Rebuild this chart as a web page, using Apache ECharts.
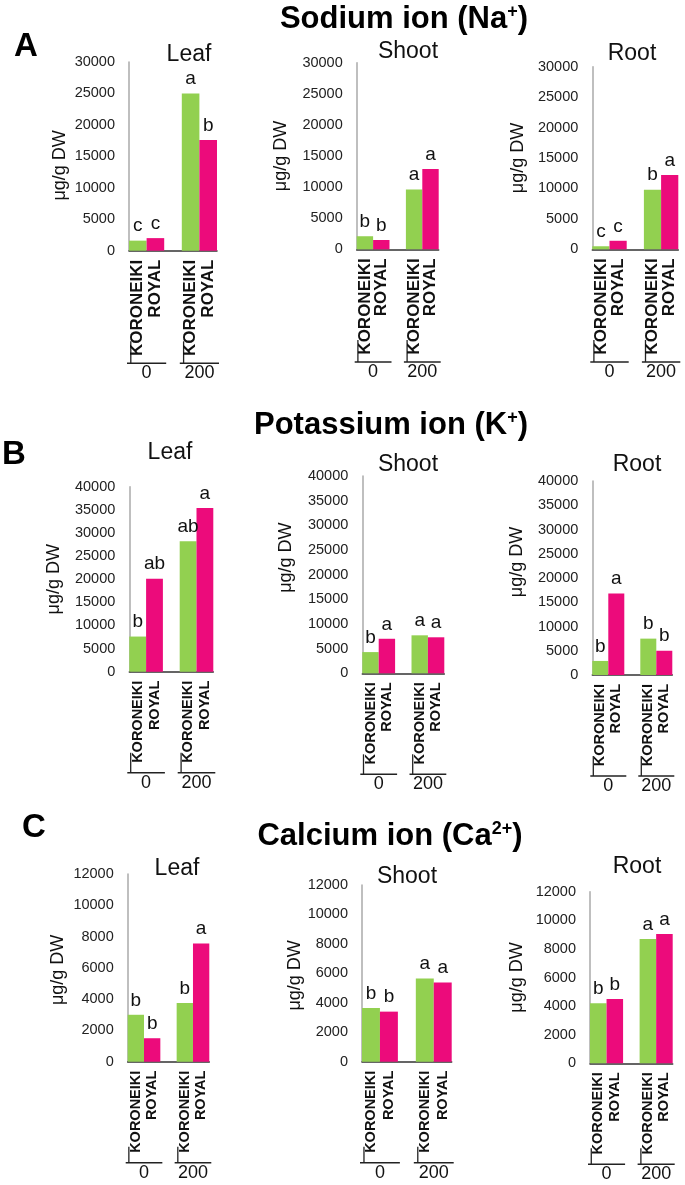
<!DOCTYPE html>
<html><head><meta charset="utf-8">
<script src="https://cdn.jsdelivr.net/npm/echarts@6/dist/echarts.min.js"></script>
<style>html,body{margin:0;padding:0;background:#fff}#c{width:685px;height:1185px}</style>
</head><body><div id="c"></div>
<script>
// ---------- data ----------
const categories = ['KORONEIKI', 'ROYAL', '', 'KORONEIKI', 'ROYAL'];
const salinityGroups = ['0', '200'];
const tissues = ['Leaf', 'Shoot', 'Root'];
const panelLetters = ['A', 'B', 'C'];
// values order: KORONEIKI-0, ROYAL-0, KORONEIKI-200, ROYAL-200
const sodiumLeaf = [1600, 2000, 25000, 17600];
const sodiumLeafSig = ['c', 'c', 'a', 'b'];
const sodiumShoot = [2100, 1500, 9600, 12900];
const sodiumShootSig = ['b', 'b', 'a', 'a'];
const sodiumRoot = [500, 1400, 9800, 12200];
const sodiumRootSig = ['c', 'c', 'b', 'a'];
const potassiumLeaf = [7600, 20100, 28200, 35400];
const potassiumLeafSig = ['b', 'ab', 'ab', 'a'];
const potassiumShoot = [4300, 7000, 7700, 7300];
const potassiumShootSig = ['b', 'a', 'a', 'a'];
const potassiumRoot = [2900, 16800, 7500, 5000];
const potassiumRootSig = ['b', 'a', 'b', 'b'];
const calciumLeaf = [3000, 1500, 3750, 7550];
const calciumLeafSig = ['b', 'b', 'b', 'a'];
const calciumShoot = [3650, 3400, 5650, 5380];
const calciumShootSig = ['b', 'b', 'a', 'a'];
const calciumRoot = [4200, 4500, 8700, 9050];
const calciumRootSig = ['b', 'b', 'a', 'a'];
// y axis ticks: [min, max, interval]
const sodiumTicks = [0, 30000, 5000];
const potassiumTicks = [0, 40000, 5000];
const calciumTicks = [0, 12000, 2000];
const yAxisName = 'μg/g DW';

// ---------- layout / style ----------
const FONT = "'Liberation Sans', Arial, sans-serif";
const GREEN = '#92D050', PINK = '#EC0B7B';
const ions = [
  { title: 'Sodium ion (Na{s|+})', ticks: sodiumTicks,
    vals: [sodiumLeaf, sodiumShoot, sodiumRoot], sig: [sodiumLeafSig, sodiumShootSig, sodiumRootSig] },
  { title: 'Potassium ion (K{s|+})', ticks: potassiumTicks,
    vals: [potassiumLeaf, potassiumShoot, potassiumRoot], sig: [potassiumLeafSig, potassiumShootSig, potassiumRootSig] },
  { title: 'Calcium ion (Ca{s|2+})', ticks: calciumTicks,
    vals: [calciumLeaf, calciumShoot, calciumRoot], sig: [calciumLeafSig, calciumShootSig, calciumRootSig] }
];
// grid boxes [left, top, right, bottom]
const boxes = [
  [[129, 62, 217, 250.7], [356.7, 62.7, 438.7, 249.3], [592.3, 66.7, 678.3, 249.3]],
  [[129.3, 486.7, 213.3, 671.7], [362.3, 476, 444.3, 673.3], [592.3, 481, 672.3, 675]],
  [[127.7, 874, 209.3, 1061.7], [362, 885, 451.7, 1061.7], [590, 891.7, 672.7, 1063.3]]
];
const nameGaps = [[60, 67, 65], [66, 67, 66], [61, 58, 64]];
// vertical shift of the axis name (px, + = up)
const nameShift = [[-9, 0, 0], [0, 17, 16], [-2, -2, 0]];
const panelTitlePos = [[[189, 54.5], [408, 52], [632, 54]], [[170, 453], [408, 465], [637, 465]], [[177, 869], [407, 877], [637, 867]]];
const mainTitlePos = [[404, 19], [391, 425], [390, 836]];
const letterPos = [[26, 47], [14, 455], [34, 828]];
const xLabelSize = [17, 14.5, 14.5];
const underlineOffset = [112.6, 101, 101];
const bracketLen = [22, 20, 16];

const chart = echarts.init(document.getElementById('c'));
const grids = [], xAxes = [], yAxes = [], series = [], graphics = [];
const catIndex = [0, 1, 3, 4];

ions.forEach((ion, r) => {
  tissues.forEach((tis, c) => {
    const i = r * 3 + c;
    const b = boxes[r][c];
    const sh = nameShift[r][c];
    grids.push({ left: b[0], top: b[1], width: b[2] - b[0], height: b[3] - b[1], containLabel: false });
    xAxes.push({
      type: 'category', gridIndex: i, data: categories,
      axisLine: { lineStyle: { color: '#333', width: 1.5 } },
      axisTick: { show: false },
      axisLabel: { interval: 0, rotate: 90, margin: 9, fontFamily: FONT, fontWeight: 'bold',
        fontSize: xLabelSize[r], color: '#111' }
    });
    yAxes.push({
      type: 'value', gridIndex: i, min: ion.ticks[0], max: ion.ticks[1], interval: ion.ticks[2],
      axisLine: { show: true, lineStyle: { color: '#aaa', width: 1.5 } },
      axisTick: { show: false }, splitLine: { show: false },
      axisLabel: { fontFamily: FONT, fontSize: 14.5, color: '#222', margin: 14, formatter: v => String(v) },
      name: yAxisName, nameLocation: 'middle', nameGap: nameGaps[r][c],
      nameTextStyle: { fontFamily: FONT, fontSize: 18, color: '#111',
        padding: sh >= 0 ? [0, 0, 0, 2 * sh] : [0, -2 * sh, 0, 0] }
    });
    const data = categories.map(() => '-');
    ion.vals[c].forEach((v, k) => {
      data[catIndex[k]] = { value: v, itemStyle: { color: k % 2 === 0 ? GREEN : PINK },
        label: { formatter: ion.sig[c][k] } };
    });
    series.push({
      type: 'bar', xAxisIndex: i, yAxisIndex: i, data: data,
      barCategoryGap: '0%', barGap: '0%',
      label: { show: true, position: 'top', distance: 5, fontFamily: FONT, fontSize: 19, color: '#111' },
      animation: false
    });
    graphics.push({ type: 'text', x: panelTitlePos[r][c][0], y: panelTitlePos[r][c][1],
      style: { text: tis, fontFamily: FONT, fontSize: 23, fill: '#111', textAlign: 'center', textVerticalAlign: 'middle' } });
  });
  graphics.push({ type: 'text', x: mainTitlePos[r][0], y: mainTitlePos[r][1],
    style: { text: ion.title, fontFamily: FONT, fontSize: 31, fontWeight: 'bold', fill: '#000',
      textAlign: 'center', textVerticalAlign: 'middle',
      rich: { s: { fontFamily: FONT, fontSize: 18, fontWeight: 'bold', fill: '#000', padding: [0, 0, 14, 0] } } } });
  graphics.push({ type: 'text', x: letterPos[r][0], y: letterPos[r][1],
    style: { text: panelLetters[r], fontFamily: FONT, fontSize: 33, fontWeight: 'bold', fill: '#000',
      textAlign: 'center', textVerticalAlign: 'middle' } });
});

chart.setOption({ animation: false, grid: grids, xAxis: xAxes, yAxis: yAxes, series: series });

// group underlines, brackets and salinity labels, positioned from the category scale
ions.forEach((ion, r) => {
  tissues.forEach((tis, c) => {
    const i = r * 3 + c;
    const c0 = chart.convertToPixel({ xAxisIndex: i }, 0);
    const c1 = chart.convertToPixel({ xAxisIndex: i }, 1);
    const bw = c1 - c0;
    const yBase = chart.convertToPixel({ yAxisIndex: i }, 0);
    const yLine = yBase + underlineOffset[r];
    [[0, 1], [3, 4]].forEach((pair, g) => {
      const ca = chart.convertToPixel({ xAxisIndex: i }, pair[0]);
      const xa = ca - bw / 2 - 2;
      const xb = chart.convertToPixel({ xAxisIndex: i }, pair[1]) + bw / 2 + 2;
      graphics.push({ type: 'line', shape: { x1: xa, y1: yLine, x2: xb, y2: yLine },
        style: { stroke: '#222', lineWidth: 1.5 } });
      graphics.push({ type: 'line', shape: { x1: ca - 7, y1: yLine, x2: ca - 7, y2: yLine - bracketLen[r] },
        style: { stroke: '#222', lineWidth: 1.3 } });
      graphics.push({ type: 'text', x: (xa + xb) / 2, y: yLine + 10,
        style: { text: salinityGroups[g], fontFamily: FONT, fontSize: 18, fill: '#111',
          textAlign: 'center', textVerticalAlign: 'middle' } });
    });
  });
});
chart.setOption({ graphic: graphics });
</script></body></html>
